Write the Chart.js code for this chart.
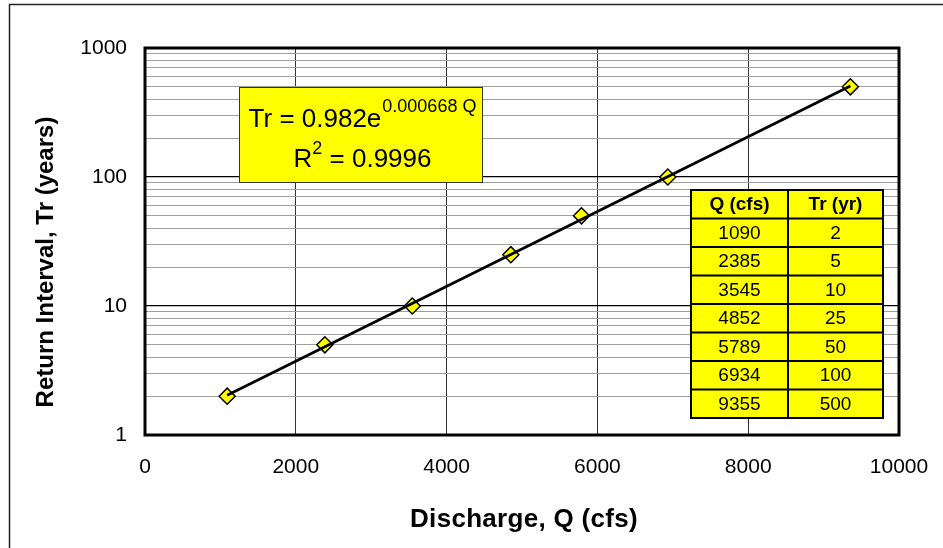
<!DOCTYPE html>
<html>
<head>
<meta charset="utf-8">
<script src="https://cdn.jsdelivr.net/npm/chart.js@4"></script>
<style>
  body { margin: 0; background: #fff; }
  canvas { display: block; }
</style>
</head>
<body>
<canvas id="chart" width="943" height="548"></canvas>
<script>
// Observed flood-frequency points
const qCfs = [1090, 2385, 3545, 4852, 5789, 6934, 9355];
const trYears = [2, 5, 10, 25, 50, 100, 500];

// Exponential trendline end points
const trendQ = [1090, 9355];
const trendTr = [2.03, 508];

// Axis ticks
const xTicks = [0, 2000, 4000, 6000, 8000, 10000];
const yDecades = [1, 10, 100, 1000];

// Trendline label text
const eqMain = 'Tr = 0.982e';
const eqExp = '0.000668 Q';
const r2Text = '0.9996';

const FONT = '"Liberation Sans", Arial, sans-serif';

// every 1..9 step in each decade for the log grid
const yGridVals = [];
for (let d = 0; d < yDecades.length - 1; d++) {
    for (let k = 1; k < 10; k++) yGridVals.push(yDecades[d] * k);
}
yGridVals.push(yDecades[yDecades.length - 1]);

const decorations = {
    id: 'decorations',
    afterDraw(chart) {
        const ctx = chart.ctx;
        const a = chart.chartArea;
        ctx.save();

        // plot area frame
        ctx.strokeStyle = '#000';
        ctx.lineWidth = 3;
        ctx.strokeRect(a.left, a.top, a.right - a.left, a.bottom - a.top);

        // outer chart frame (only left and top edges visible)
        ctx.strokeStyle = '#222';
        ctx.lineWidth = 1.5;
        ctx.strokeRect(9.5, 4.5, 1000, 1000);

        // equation box
        const bx = a.left + 94, by = a.top + 39, bw = 243, bh = 95;
        ctx.fillStyle = '#FFFF00';
        ctx.fillRect(bx, by, bw, bh);
        ctx.strokeStyle = '#333';
        ctx.lineWidth = 1;
        ctx.strokeRect(bx + 0.5, by + 0.5, bw, bh);

        ctx.fillStyle = '#000';
        ctx.textBaseline = 'alphabetic';
        ctx.textAlign = 'left';
        const cx = bx + bw / 2 + 2;
        ctx.font = '26px ' + FONT;
        const w1 = ctx.measureText(eqMain).width;
        ctx.font = '18px ' + FONT;
        const w2 = ctx.measureText(eqExp).width;
        let x0 = cx - (w1 + w2 + 1) / 2;
        ctx.font = '26px ' + FONT;
        ctx.fillText(eqMain, x0, by + 40);
        ctx.font = '18px ' + FONT;
        ctx.fillText(eqExp, x0 + w1 + 1, by + 25);

        ctx.font = '26px ' + FONT;
        const wr = ctx.measureText('R').width;
        const wrest = ctx.measureText(' = ' + r2Text).width;
        ctx.font = '18px ' + FONT;
        const w2s = ctx.measureText('2').width;
        x0 = cx - (wr + w2s + wrest) / 2;
        ctx.font = '26px ' + FONT;
        ctx.fillText('R', x0, by + 80);
        ctx.font = '18px ' + FONT;
        ctx.fillText('2', x0 + wr, by + 67);
        ctx.font = '26px ' + FONT;
        ctx.fillText(' = ' + r2Text, x0 + wr + w2s, by + 80);

        // data table
        const tw = [97, 95], rh = 28.5;
        const tx = a.right - 16 - (tw[0] + tw[1]);
        const ty = a.top + 142;
        const rows = [['Q (cfs)', 'Tr (yr)']].concat(qCfs.map((q, i) => [String(q), String(trYears[i])]));
        const th = rh * rows.length;
        ctx.fillStyle = '#FFFF00';
        ctx.fillRect(tx, ty, tw[0] + tw[1], th);
        ctx.strokeStyle = '#000';
        ctx.lineWidth = 2;
        ctx.strokeRect(tx, ty, tw[0] + tw[1], th);
        ctx.beginPath();
        ctx.moveTo(tx + tw[0], ty);
        ctx.lineTo(tx + tw[0], ty + th);
        for (let r = 1; r < rows.length; r++) {
            ctx.moveTo(tx, ty + r * rh);
            ctx.lineTo(tx + tw[0] + tw[1], ty + r * rh);
        }
        ctx.stroke();
        ctx.fillStyle = '#000';
        ctx.textAlign = 'center';
        ctx.textBaseline = 'middle';
        rows.forEach((row, r) => {
            ctx.font = (r === 0 ? 'bold ' : '') + '19px ' + FONT;
            ctx.fillText(row[0], tx + tw[0] / 2, ty + r * rh + rh / 2 + 1);
            ctx.fillText(row[1], tx + tw[0] + tw[1] / 2, ty + r * rh + rh / 2 + 1);
        });

        // axis titles
        ctx.textAlign = 'center';
        ctx.textBaseline = 'alphabetic';
        ctx.font = 'bold 26px ' + FONT;
        ctx.letterSpacing = '0.3px';
        ctx.fillText('Discharge, Q (cfs)', (a.left + a.right) / 2 + 2, 527);
        ctx.letterSpacing = '0px';
        ctx.font = 'bold 24px ' + FONT;
        ctx.translate(53, 262);
        ctx.rotate(-Math.PI / 2);
        ctx.fillText('Return Interval, Tr (years)', 0, 0);

        ctx.restore();
    }
};

new Chart(document.getElementById('chart'), {
    type: 'scatter',
    data: {
        datasets: [{
            label: 'Trend',
            data: trendQ.map((q, i) => ({ x: q, y: trendTr[i] })),
            showLine: true,
            pointRadius: 0,
            borderColor: '#000',
            borderWidth: 2.8,
            order: 0
        }, {
            label: 'Observed',
            data: qCfs.map((q, i) => ({ x: q, y: trYears[i] })),
            pointStyle: 'rectRot',
            pointRadius: 8,
            backgroundColor: '#FFFF00',
            borderColor: '#000',
            borderWidth: 1.5,
            order: 1
        }]
    },
    options: {
        responsive: false,
        animation: false,
        layout: { padding: { top: 48, right: 44, left: 0, bottom: 0 } },
        plugins: {
            legend: { display: false },
            tooltip: { enabled: false }
        },
        scales: {
            x: {
                type: 'linear',
                min: xTicks[0],
                max: xTicks[xTicks.length - 1],
                afterBuildTicks: function(scale) {
                    scale.ticks = xTicks.map(v => ({ value: v }));
                },
                afterFit: function(scale) {
                    scale.height = 113;
                    scale.paddingLeft = 0;
                    scale.paddingRight = 0;
                },
                border: { display: false },
                grid: { color: '#333', lineWidth: 1, drawTicks: false },
                ticks: {
                    autoSkip: false,
                    maxRotation: 0,
                    padding: 20,
                    color: '#000',
                    font: { family: FONT, size: 21 },
                    callback: function(value) { return String(value); }
                }
            },
            y: {
                type: 'logarithmic',
                min: yDecades[0],
                max: yDecades[yDecades.length - 1],
                afterBuildTicks: function(scale) {
                    scale.ticks = yGridVals.map(v => ({ value: v }));
                },
                afterFit: function(scale) {
                    scale.width = 145;
                    scale.paddingTop = 0;
                    scale.paddingBottom = 0;
                },
                border: { display: false },
                grid: {
                    drawTicks: false,
                    color: function(c) {
                        return yDecades.includes(c.tick.value) ? '#000' : '#a0a0a0';
                    },
                    lineWidth: function(c) {
                        return yDecades.includes(c.tick.value) ? 1.3 : 1;
                    }
                },
                ticks: {
                    autoSkip: false,
                    padding: 18,
                    color: '#000',
                    font: { family: FONT, size: 21 },
                    callback: function(value) {
                        return yDecades.includes(value) ? String(value) : '';
                    }
                }
            }
        }
    },
    plugins: [decorations]
});
</script>
</body>
</html>
